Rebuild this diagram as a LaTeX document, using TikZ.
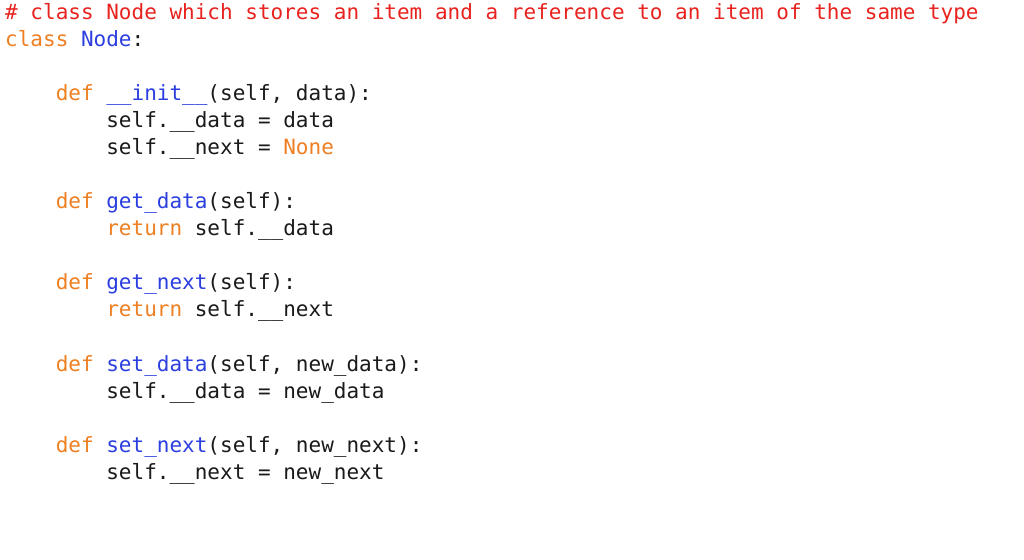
\documentclass[tikz,border=0pt]{standalone}
\usepackage{fontspec}
\setmonofont{DejaVu Sans Mono}
\definecolor{cm}{HTML}{E8231F}
\definecolor{kw}{HTML}{EE7F22}
\definecolor{fn}{HTML}{2B3FE0}
\definecolor{tx}{HTML}{1A1A1A}
\newcommand{\K}[1]{\textcolor{kw}{#1}}
\newcommand{\F}[1]{\textcolor{fn}{#1}}
\begin{document}
\begin{tikzpicture}[x=1pt,y=1pt,
  ln/.style={anchor=base west,inner sep=0pt,font=\fontsize{21}{21}\ttfamily,text=tx}]
\useasboundingbox (0,0) rectangle (1024,559);
\fill[white] (0,0) rectangle (1024,559);
\node[ln] (l1) at (5,559-20) {\textcolor{cm}{\# class Node which stores an item and a reference to an item of the same type}};
\node[ln] (l2) at (5,559-47) {\K{class} \F{Node}:};
\node[ln] (l3) at (5,559-101) {\phantom{xxxx}\K{def} \F{\_\_init\_\_}(self, data):};
\node[ln] (l4) at (5,559-128) {\phantom{xxxxxxxx}self.\_\_data = data};
\node[ln] (l5) at (5,559-155) {\phantom{xxxxxxxx}self.\_\_next = \K{None}};
\node[ln] (l6) at (5,559-209) {\phantom{xxxx}\K{def} \F{get\_data}(self):};
\node[ln] (l7) at (5,559-236) {\phantom{xxxxxxxx}\K{return} self.\_\_data};
\node[ln] (l8) at (5,559-290) {\phantom{xxxx}\K{def} \F{get\_next}(self):};
\node[ln] (l9) at (5,559-317) {\phantom{xxxxxxxx}\K{return} self.\_\_next};
\node[ln] (l10) at (5,559-372) {\phantom{xxxx}\K{def} \F{set\_data}(self, new\_data):};
\node[ln] (l11) at (5,559-399) {\phantom{xxxxxxxx}self.\_\_data = new\_data};
\node[ln] (l12) at (5,559-453) {\phantom{xxxx}\K{def} \F{set\_next}(self, new\_next):};
\node[ln] (l13) at (5,559-480) {\phantom{xxxxxxxx}self.\_\_next = new\_next};
\end{tikzpicture}
\end{document}
